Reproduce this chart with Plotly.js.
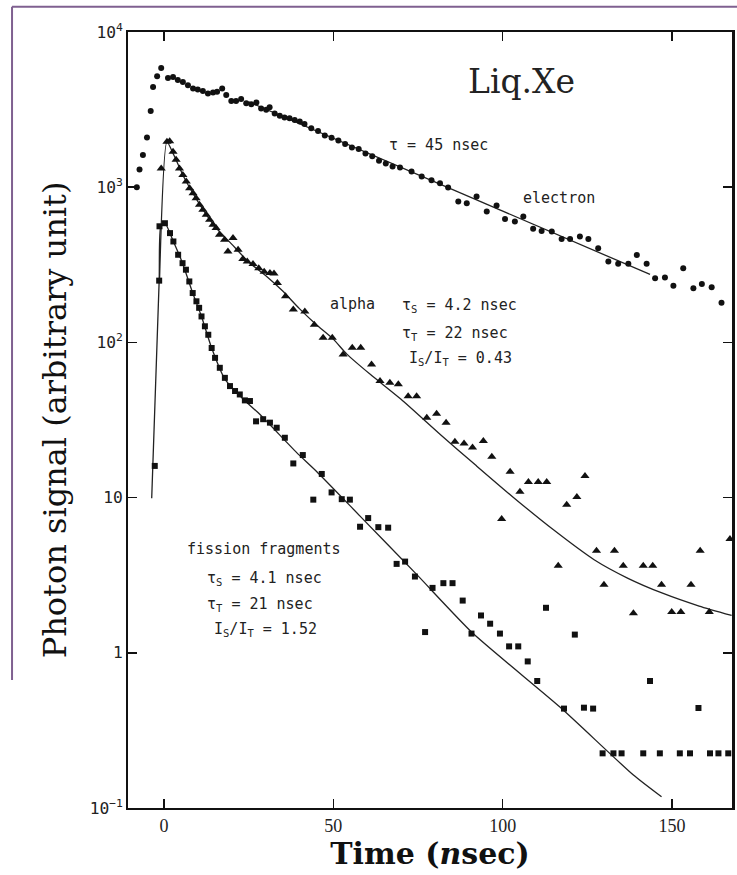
<!DOCTYPE html>
<html><head><meta charset="utf-8">
<script src="https://cdn.plot.ly/plotly-3.0.1.min.js"></script>
<style>html,body{margin:0;padding:0;background:#fff;} #chart{width:737px;height:875px;}</style>
</head><body><div id="chart"></div>
<script>
// ---- data (time in ns, photon signal in arbitrary units) ----
const electronT = [-8.0,-7.2,-6.2,-5.0,-3.9,-3.2,-2.0,-0.8,1.2,2.7,4.1,5.6,7.1,8.6,10.0,11.5,13.0,14.5,15.7,17.2,18.4,19.9,21.3,22.8,24.3,25.8,27.3,28.7,30.2,31.2,32.7,34.2,35.6,37.1,38.6,40.1,41.5,43.5,45.5,47.5,49.5,51.5,53.5,55.5,57.5,59.5,61.5,63.5,65.5,67.5,69.7,73.1,76.1,79.0,81.5,83.9,86.9,89.4,92.3,95.3,98.2,100.7,103.6,106.1,109.0,111.5,114.5,117.4,119.9,122.8,125.3,128.2,131.2,134.1,137.1,139.6,142.5,145.0,147.9,150.4,153.3,156.3,158.8,161.7,164.6];
const electronY = [1000,1300,1610,2090,3100,4430,5190,5870,5060,5130,4900,4770,4540,4320,4260,4160,4020,4080,4120,4330,3930,3590,3590,3700,3470,3420,3510,3220,3150,3270,2990,2890,2810,2780,2710,2650,2550,2400,2300,2150,2080,2000,1900,1800,1760,1650,1580,1480,1420,1360,1340,1260,1170,1110,1060,994,808,788,871,698,762,625,601,647,539,523,518,464,464,481,464,404,332,321,321,366,321,259,262,232,300,223,238,227,180];

const alphaT = [-0.8,0.9,1.7,2.7,3.6,4.6,5.6,6.6,7.6,8.6,9.5,10.5,11.5,12.5,13.5,14.5,15.4,16.4,17.9,18.9,20.4,21.9,23.3,24.6,26.3,28.0,29.6,31.3,32.5,33.5,35.9,38.2,41.6,44.4,47.0,49.7,52.9,55.6,58.1,61.3,63.8,66.7,69.2,72.1,74.6,77.6,80.5,83.3,85.9,88.6,91.1,94.3,96.8,99.7,102.2,105.1,107.6,110.5,113.0,116.4,118.9,121.9,124.3,127.7,129.9,133.0,135.6,138.6,141.5,144.3,146.9,149.9,152.6,155.6,158.3,161.0,167.1];
const alphaY = [1320,1960,1980,1690,1500,1320,1200,1090,984,915,849,770,715,664,616,572,545,494,458,385,470,395,345,332,320,301,285,280,278,241,198,163,158,130,107,107,83.6,92.2,92.2,72,56.4,55,53.7,45,45,32.7,34.7,30.4,22.9,22.3,21.0,23.2,18.3,7.27,14.7,10.9,12.6,12.6,12.6,3.64,9.0,10.1,13.8,4.55,2.74,4.55,3.64,1.80,3.64,3.64,2.74,1.83,1.83,2.74,4.55,1.83,5.41];

const fissionT = [-2.7,-1.4,-1.3,0.3,1.8,2.8,4.2,5.5,6.5,7.5,8.5,9.6,10.4,11.1,12.1,13.1,14.1,15.1,16.5,18.0,19.5,21.0,22.4,23.9,25.4,27.2,29.3,31.3,33.3,35.7,38.2,41.0,44.1,46.6,49.5,52.5,54.9,57.9,60.3,63.3,66.2,68.7,71.2,74.1,77.1,79.3,82.5,85.2,88.2,90.8,93.6,96.3,99.2,101.9,104.6,107.4,110.2,112.8,118.1,121.3,124.0,126.7,129.5,132.7,135.1,141.5,143.5,146.4,152.3,155.3,157.8,161.2,163.7,166.6];
const fissionY = [16,250,560,586,506,447,367,324,294,247,208,184,167,147,127,112,92,79.5,68.6,59.1,52.3,48.6,46.2,42.3,41.9,31.0,32.0,30.4,28.2,24.3,16.6,18.8,9.7,14.2,10.8,9.77,9.7,6.49,7.38,6.45,6.40,3.74,3.87,3.10,1.36,2.62,2.81,2.81,2.17,1.33,1.74,1.54,1.33,1.10,1.10,0.88,0.658,1.95,0.437,1.31,0.443,0.437,0.225,0.225,0.225,0.225,0.658,0.225,0.225,0.225,0.441,0.225,0.225,0.225];

// fitted curves
const electronFitT = [25, 69.6, 143.5];
const electronFitY = [3550, 1355, 274];
const alphaFitT = [-1.3,0.9,3,6,10,15,20,25,30,35,40,45,50,54,61,70,81.5,92,103,115,127,137,147,158,167.6];
const alphaFitY = [247,1960,1600,1150,810,560,430,330,270,215,165,130,105,84,62,43,25.6,16.2,10.1,6.2,3.98,3.02,2.43,2.0,1.74];
const fissionFitT = [-3.6,-1.4,-0.9,0.3,2.8,5.5,8.5,11.1,14.1,18,23,28.3,39.2,45,57.9,74.6,91.3,116.9,138.6,146.9];
const fissionFitY = [9.9,250,560,586,447,324,208,147,92,58,44,34.4,19.5,14.8,7.6,3.2,1.33,0.447,0.163,0.118];

const xTicks = [0, 50, 100, 150];

// ---- traces ----
const ink = '#111';
const lineInk = '#222';
const traces = [
  {x: electronFitT, y: electronFitY, mode: 'lines', line: {color: lineInk, width: 1.3}, hoverinfo: 'skip'},
  {x: alphaFitT, y: alphaFitY, mode: 'lines', line: {color: lineInk, width: 1.3, shape: 'spline', smoothing: 0.6}, hoverinfo: 'skip'},
  {x: fissionFitT, y: fissionFitY, mode: 'lines', line: {color: lineInk, width: 1.3, shape: 'spline', smoothing: 0.6}, hoverinfo: 'skip'},
  {x: electronT, y: electronY, mode: 'markers', name: 'electron', marker: {symbol: 'circle', size: 6, color: ink}},
  {x: alphaT, y: alphaY, mode: 'markers', name: 'alpha', marker: {symbol: 'triangle-up', size: 8, color: ink}},
  {x: fissionT, y: fissionY, mode: 'markers', name: 'fission fragments', marker: {symbol: 'square', size: 6, color: ink}}
];

const mono = {family: 'DejaVu Sans Mono, Liberation Mono, monospace', size: 15, color: '#222'};
function note(text, x, ly, anchor, font) {
  return {text: text, x: x, y: ly, xref: 'x', yref: 'y', showarrow: false,
          xanchor: anchor || 'left', yanchor: 'middle', font: font || mono};
}

const annotations = [
  note('Liq.Xe', 105.7, 3.679, 'center', {family: 'DejaVu Serif, Liberation Serif, serif', size: 33, color: '#222'}),
  note('τ = 45 nsec', 81.0, 3.274, 'center'),
  note('electron', 116.6, 2.933, 'center'),
  note('alpha', 55.8, 2.245, 'center'),
  note('τ<sub>S</sub> = 4.2 nsec', 69.7, 2.235, 'left'),
  note('τ<sub>T</sub> = 22 nsec', 69.7, 2.055, 'left'),
  note('I<sub>S</sub>/I<sub>T</sub> = 0.43', 71.7, 1.895, 'left'),
  note('fission fragments', 6.2, 0.671, 'left'),
  note('τ<sub>S</sub> = 4.1 nsec', 12.1, 0.48, 'left'),
  note('τ<sub>T</sub> = 21 nsec', 12.1, 0.313, 'left'),
  note('I<sub>S</sub>/I<sub>T</sub> = 1.52', 14.2, 0.153, 'left')
];

const purple = '#7f6090';
const shapes = [
  {type: 'line', xref: 'paper', yref: 'paper', x0: -0.192, x1: 1.02, y0: 1.0325, y1: 1.0325, line: {color: purple, width: 2}},
  {type: 'line', xref: 'paper', yref: 'paper', x0: -0.192, x1: -0.192, y0: 1.0325, y1: 0.165, line: {color: purple, width: 2}}
];

const layout = {
  width: 737, height: 875,
  margin: {l: 128, r: 5, t: 32, b: 67},
  paper_bgcolor: '#fff', plot_bgcolor: '#fff',
  showlegend: false,
  xaxis: {
    range: [-10.6, 167.7], tickvals: xTicks, ticktext: xTicks.map(String),
    ticks: 'inside', ticklen: 9, tickwidth: 1.5, tickcolor: '#111',
    showline: true, linewidth: 2, linecolor: '#111', mirror: 'ticks',
    showgrid: false, zeroline: false,
    tickfont: {family: 'Liberation Serif, serif', size: 18, color: '#222'},
    title: {text: 'Time (<i>n</i>sec)', standoff: 8,
            font: {family: 'DejaVu Serif, Liberation Serif, serif', size: 30, color: '#111', weight: 'bold'}}
  },
  yaxis: {
    type: 'log', range: [-1, 4], dtick: 1, exponentformat: 'power',
    ticks: 'inside', ticklen: 9, tickwidth: 1.5, tickcolor: '#111',
    showline: true, linewidth: 2.5, linecolor: '#111', mirror: 'ticks',
    showgrid: false, zeroline: false,
    tickfont: {family: 'DejaVu Sans Mono, monospace', size: 13, color: '#222'},
    title: {text: 'Photon signal (arbitrary unit)', standoff: 14,
            font: {family: 'DejaVu Serif, Liberation Serif, serif', size: 32, color: '#111'}}
  },
  annotations: annotations,
  shapes: shapes
};

Plotly.newPlot('chart', traces, layout, {displayModeBar: false, staticPlot: true});
</script>
</body></html>
